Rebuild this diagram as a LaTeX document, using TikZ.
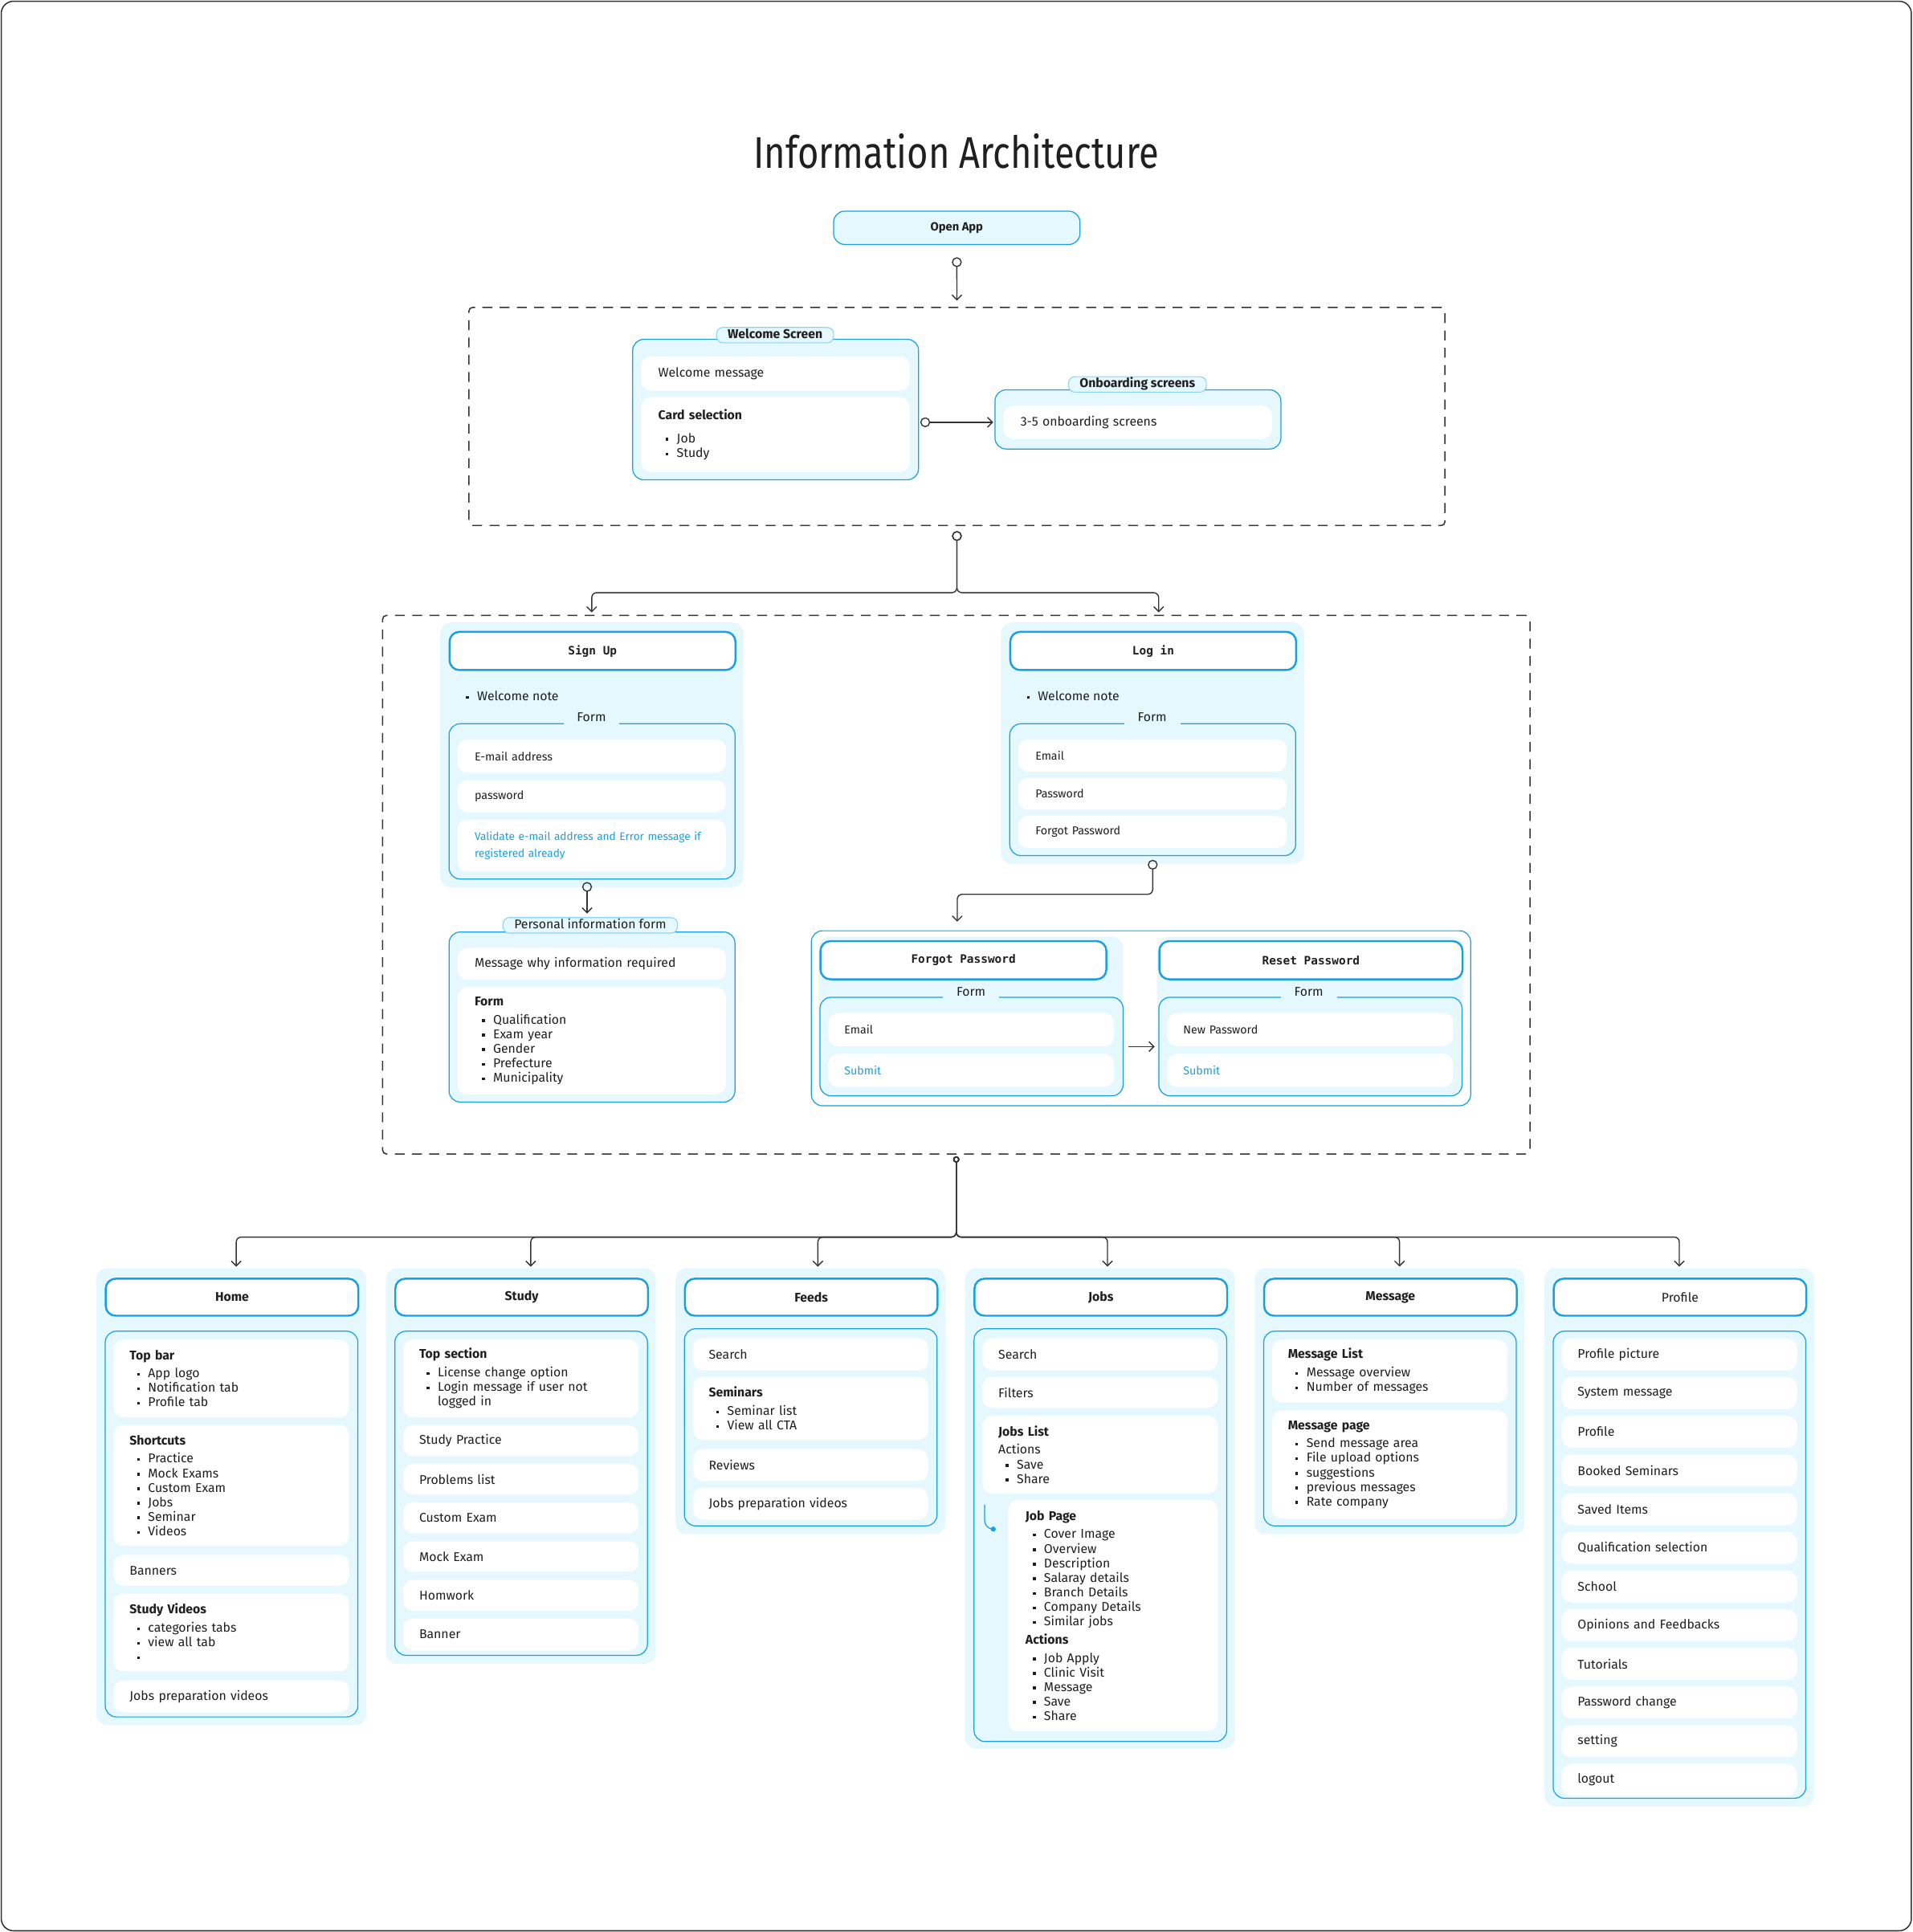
\documentclass[tikz,border=0pt]{standalone}
\usepackage{fontspec}
\setmainfont{Fira Sans}
\setmonofont{DejaVu Sans Mono}
\usetikzlibrary{positioning,arrows.meta}

\definecolor{iablue}{HTML}{1AA0E0}
\definecolor{iafill}{HTML}{E5F8FD}
\definecolor{iatab}{HTML}{8CD2F1}
\definecolor{iaink}{HTML}{1F1F1F}
\definecolor{ialine}{HTML}{333333}

\newcommand{\body}{\fontsize{10.3}{11.8}\selectfont}
\newcommand{\formfont}{\fontsize{9.3}{14}\selectfont}
\newcommand{\monohead}{\ttfamily\bfseries\fontsize{9.4}{10}\selectfont}
\newcommand{\bul}{\hspace*{6pt}\makebox[9pt][l]{\raisebox{0.3ex}{\rule{2.2pt}{2.2pt}}}}

\begin{document}
\begin{tikzpicture}[x=1pt,y=-1pt,font=\body,text=iaink]
    \tikzstyle{frame} = [draw=ialine, line width=1pt, rounded corners=10pt]
    \tikzstyle{stage} = [draw=ialine, line width=1pt, dash pattern=on 8pt off 6pt,
    rounded corners=3pt, anchor=north west, inner sep=0pt]
    \tikzstyle{group} = [fill=iafill, rounded corners=9pt, anchor=north west, inner sep=0pt]
    \tikzstyle{panel} = [draw=iablue, line width=0.8pt, fill=iafill, rounded corners=9pt,
    anchor=north west, inner sep=0pt]
    \tikzstyle{head} = [draw=iablue, line width=1.6pt, fill=white, rounded corners=8pt,
    anchor=north west, inner sep=0pt, font=\bfseries\body]
    \tikzstyle{item} = [fill=white, rounded corners=8pt, anchor=north west, align=left,
    inner xsep=13pt, inner ysep=2pt]
    \tikzstyle{colitem} = [item, text width=165pt]
    \tikzstyle{wideitem} = [item, text width=190pt, inner xsep=14pt]
    \tikzstyle{tab} = [draw=iatab, line width=0.7pt, fill=iafill, rounded corners=5pt,
    inner xsep=9pt, inner ysep=1.5pt, text height=7.5pt, text depth=2pt, font=\bfseries\body]
    \tikzstyle{legend} = [fill=iafill, inner xsep=11pt, inner ysep=1pt, text height=7.5pt,
    text depth=2pt, font=\body]
    \tikzstyle{link} = [draw=ialine, line width=0.9pt, rounded corners=4pt,
    {Circle[open,length=8pt,width=8pt]}-{Straight Barb[length=4pt,width=8pt]}]
    \tikzstyle{line} = [draw=ialine, line width=0.9pt, -{Straight Barb[length=4pt,width=8pt]}]

    % Page and title
    \path[fill=white] (0,0) rectangle (1552,1568);
    \useasboundingbox (0,0) rectangle (1552,1568);
    \draw[frame] (1,1) rectangle (1551,1567);
    \node (title) at (776,123) {\scalebox{0.82}[1]{\fontsize{36}{36}\selectfont Information Architecture}};

    \node[panel, minimum width=200pt, minimum height=27pt,
    font=\bfseries\fontsize{9.6}{10}\selectfont] (openapp) at (676,171) {Open App};

    % Welcome stage
    \node[stage, minimum width=792pt, minimum height=177pt] (stage1) at (380,249) {};
    \node[panel, minimum width=232pt, minimum height=114pt] (wsp) at (513,275) {};
    \node[tab] (wstab) at (629,272) {Welcome Screen};
    \node[wideitem, minimum height=28pt] (wsmsg) at (520,289) {Welcome message};
    \node[wideitem, minimum height=61pt] (wscard) at (520,322)
    {\textbf{Card selection}\\[7pt] \bul Job\\ \bul Study};

    \node[panel, minimum width=232pt, minimum height=48pt] (obp) at (807,316) {};
    \node[tab] (obtab) at (923,312) {Onboarding screens};
    \node[wideitem, minimum height=27pt] (obitem) at (814,329) {3-5 onboarding screens};

    % Sign up / log in stage
    \node[stage, minimum width=931pt, minimum height=437pt] (stage2) at (310,499) {};

    \node[group, minimum width=246pt, minimum height=215pt] (sug) at (357,505) {};
    \node[head, minimum width=232pt, minimum height=31pt, font=\monohead] (suhead) at (364,512) {Sign Up};
    \node[anchor=west, inner sep=0pt] (sunote) at (372,565) {\bul Welcome note};
    \node[panel, minimum width=232pt, minimum height=126pt] (sufrm) at (364,587) {};
    \node[legend] (sulgd) at (480,583) {Form};
    \node[wideitem, minimum height=27pt, font=\formfont] (su1) at (371,600) {E-mail address};
    \node[wideitem, minimum height=26pt, font=\formfont] (su2) at (371,633) {password};
    \node[wideitem, minimum height=42pt, font=\fontsize{8.9}{14}\selectfont, text=iablue] (su3) at (371,665)
    {Validate e-mail address and Error message if\\ registered already};

    \node[panel, minimum width=232pt, minimum height=138pt] (pinfo) at (364,756) {};
    \node[tab, font=\body] (pitab) at (479,751) {Personal information form};
    \node[wideitem, minimum height=26pt] (pi1) at (371,769) {Message why information required};
    \node[wideitem, minimum height=87pt] (pi2) at (371,801)
    {\textbf{Form}\\[3pt] \bul Qualification\\ \bul Exam year\\ \bul Gender\\ \bul Prefecture\\ \bul Municipality};

    \node[group, minimum width=246pt, minimum height=196pt] (lig) at (812,505) {};
    \node[head, minimum width=232pt, minimum height=31pt, font=\monohead] (lihead) at (819,512) {Log in};
    \node[anchor=west, inner sep=0pt] (linote) at (827,565) {\bul Welcome note};
    \node[panel, minimum width=232pt, minimum height=107pt] (lifrm) at (819,587) {};
    \node[legend] (lilgd) at (935,583) {Form};
    \node[wideitem, minimum height=26pt, font=\formfont] (li1) at (826,600) {Email};
    \node[wideitem, minimum height=26pt, font=\formfont] (li2) at (826,631) {Password};
    \node[wideitem, minimum height=26pt, font=\formfont] (li3) at (826,662) {Forgot Password};

    % Password recovery
    \node[panel, fill=white, minimum width=535pt, minimum height=142pt] (fpwrap) at (658,755) {};
    \node[group, minimum width=247pt, minimum height=129pt] (fpg) at (664,760) {};
    \node[head, minimum width=232pt, minimum height=31pt, font=\monohead] (fphead) at (665,763) {Forgot Password};
    \node[panel, minimum width=246pt, minimum height=80pt] (fpfrm) at (665,809) {};
    \node[legend] (fplgd) at (788,806) {Form};
    \node[item, text width=206pt, minimum height=27pt, font=\formfont] (fp1) at (672,822) {Email};
    \node[item, text width=206pt, minimum height=27pt, font=\formfont, text=iablue] (fp2) at (672,855) {Submit};

    \node[group, minimum width=248pt, minimum height=129pt] (rpg) at (939,760) {};
    \node[head, minimum width=246pt, minimum height=31pt, font=\monohead] (rphead) at (940,763) {Reset Password};
    \node[panel, minimum width=246pt, minimum height=80pt] (rpfrm) at (940,809) {};
    \node[legend] (rplgd) at (1062,806) {Form};
    \node[item, text width=206pt, minimum height=27pt, font=\formfont] (rp1) at (947,822) {New Password};
    \node[item, text width=206pt, minimum height=27pt, font=\formfont, text=iablue] (rp2) at (947,855) {Submit};

    % Home
    \node[group, minimum width=219pt, minimum height=371pt] (homegrp) at (78,1029) {};
    \node[head, minimum width=205pt, minimum height=30pt] (homehead) at (85,1037) {Home};
    \node[panel, minimum width=205pt, minimum height=313pt] (homepnl) at (85,1080) {};
    \node[colitem, minimum height=63pt] (home1) at (92,1087)
    {\textbf{Top bar}\\[3pt] \bul App logo\\ \bul Notification tab\\ \bul Profile tab};
    \node[colitem, minimum height=98pt, below=6pt of home1] (home2)
    {\textbf{Shortcuts}\\[3pt] \bul Practice\\ \bul Mock Exams\\ \bul Custom Exam\\ \bul Jobs\\ \bul Seminar\\ \bul Videos};
    \node[colitem, minimum height=25pt, below=7pt of home2] (home3) {Banners};
    \node[colitem, minimum height=63pt, below=6pt of home3] (home4)
    {\textbf{Study Videos}\\[3pt] \bul categories tabs\\ \bul view all tab\\ \bul};
    \node[colitem, minimum height=26pt, below=7pt of home4] (home5) {Jobs preparation videos};

    % Study
    \node[group, minimum width=219pt, minimum height=321pt] (studygrp) at (313,1029) {};
    \node[head, minimum width=205pt, minimum height=30pt] (studyhead) at (320,1037) {Study};
    \node[panel, minimum width=205pt, minimum height=263pt] (studypnl) at (320,1080) {};
    \node[colitem, minimum height=63pt] (study1) at (327,1087)
    {\textbf{Top section}\\[3pt] \bul License change option\\ \bul Login message if user not\\ \hspace*{15pt}logged in};
    \node[colitem, minimum height=25pt, below=6pt of study1] (study2) {Study Practice};
    \node[colitem, minimum height=25pt, below=6pt of study2] (study3) {Problems list};
    \node[colitem, minimum height=25pt, below=6pt of study3] (study4) {Custom Exam};
    \node[colitem, minimum height=25pt, below=6pt of study4] (study5) {Mock Exam};
    \node[colitem, minimum height=25pt, below=6pt of study5] (study6) {Homwork};
    \node[colitem, minimum height=26pt, below=6pt of study6] (study7) {Banner};

    % Feeds
    \node[group, minimum width=219pt, minimum height=216pt] (feedgrp) at (548,1029) {};
    \node[head, minimum width=205pt, minimum height=30pt] (feedhead) at (555,1037) {Feeds};
    \node[panel, minimum width=205pt, minimum height=160pt] (feedpnl) at (555,1078) {};
    \node[colitem, minimum height=26pt] (feed1) at (562,1086) {Search};
    \node[colitem, minimum height=51pt, below=5pt of feed1] (feed2)
    {\textbf{Seminars}\\[3pt] \bul Seminar list\\ \bul View all CTA};
    \node[colitem, minimum height=26pt, below=7pt of feed2] (feed3) {Reviews};
    \node[colitem, minimum height=26pt, below=5pt of feed3] (feed4) {Jobs preparation videos};

    % Jobs
    \node[group, minimum width=219pt, minimum height=390pt] (jobgrp) at (783,1029) {};
    \node[head, minimum width=205pt, minimum height=30pt] (jobhead) at (790,1037) {Jobs};
    \node[panel, minimum width=205pt, minimum height=335pt] (jobpnl) at (790,1078) {};
    \node[colitem, minimum height=26pt] (job1) at (797,1086) {Search};
    \node[colitem, minimum height=25pt, below=5pt of job1] (job2) {Filters};
    \node[colitem, minimum height=63pt, below=6pt of job2] (job3)
    {\textbf{Jobs List}\\[3pt] Actions\\ \bul Save\\ \bul Share};
    \node[item, text width=142pt, inner xsep=14pt, minimum height=188pt] (jobpage) at (818,1217)
    {\textbf{Job Page}\\[3pt] \bul Cover Image\\ \bul Overview\\ \bul Description\\ \bul Salaray details\\
    \bul Branch Details\\ \bul Company Details\\ \bul Similar jobs\\[3pt] \textbf{Actions}\\[3pt]
    \bul Job Apply\\ \bul Clinic Visit\\ \bul Message\\ \bul Save\\ \bul Share};
    \draw[draw=iablue, line width=0.8pt, rounded corners=7pt, -{Circle[length=4pt]}]
    ([shift={(2pt,-9pt)}]job3.south west) |- ([shift={(-10pt,-24pt)}]jobpage.north west);

    % Message
    \node[group, minimum width=219pt, minimum height=216pt] (msggrp) at (1018,1029) {};
    \node[head, minimum width=205pt, minimum height=30pt] (msghead) at (1025,1037) {Message};
    \node[panel, minimum width=205pt, minimum height=158pt] (msgpnl) at (1025,1080) {};
    \node[colitem, minimum height=51pt] (msg1) at (1032,1087)
    {\textbf{Message List}\\[3pt] \bul Message overview\\ \bul Number of messages};
    \node[colitem, minimum height=88pt, below=6pt of msg1] (msg2)
    {\textbf{Message page}\\[3pt] \bul Send message area\\ \bul File upload options\\ \bul suggestions\\
    \bul previous messages\\ \bul Rate company};

    % Profile
    \node[group, minimum width=219pt, minimum height=437pt] (profgrp) at (1253,1029) {};
    \node[head, minimum width=205pt, minimum height=30pt, font=\body] (profhead) at (1260,1037) {Profile};
    \node[panel, minimum width=205pt, minimum height=379pt] (profpnl) at (1260,1080) {};
    \node[colitem, minimum height=26pt] (prof1) at (1267,1086) {Profile picture};
    \node[colitem, minimum height=26pt, below=5pt of prof1] (prof2) {System message};
    \node[colitem, minimum height=26pt, below=5pt of prof2] (prof3) {Profile};
    \node[colitem, minimum height=26pt, below=5pt of prof3] (prof4) {Booked Seminars};
    \node[colitem, minimum height=26pt, below=5pt of prof4] (prof5) {Saved Items};
    \node[colitem, minimum height=26pt, below=5pt of prof5] (prof6) {Qualification selection};
    \node[colitem, minimum height=26pt, below=5pt of prof6] (prof7) {School};
    \node[colitem, minimum height=26pt, below=5pt of prof7] (prof8) {Opinions and Feedbacks};
    \node[colitem, minimum height=26pt, below=5pt of prof8] (prof9) {Tutorials};
    \node[colitem, minimum height=26pt, below=5pt of prof9] (prof10) {Password change};
    \node[colitem, minimum height=26pt, below=5pt of prof10] (prof11) {setting};
    \node[colitem, minimum height=26pt, below=5pt of prof11] (prof12) {logout};

    % Connectors
    \draw[link, shorten <=10pt, shorten >=5pt] (openapp.south) -- (stage1.north);
    \draw[link, shorten <=1pt, shorten >=1pt] (wsp.east |- obitem) -- (obp.west |- obitem);
    \draw[link, shorten <=4pt, shorten >=8pt] (stage1.south) -- ++(0,54) -| (sug.north);
    \draw[link, shorten <=4pt, shorten >=8pt] (stage1.south) -- ++(0,54) -| ([xshift=5pt]lig.north);
    \draw[link, shorten <=2pt, shorten >=3pt] ([xshift=-4pt]sufrm.south) -- ([xshift=-4pt]sufrm.south |- pitab.north);
    \draw[link, shorten <=3pt, shorten >=15pt] (lifrm.south) -- ++(0,31) -| ([xshift=-5pt]fphead.north);
    \draw[line, shorten <=4pt, shorten >=3pt] (fpfrm.east) -- (rpfrm.west);
    \foreach \col/\dx in {homegrp/4, studygrp/8, feedgrp/6, jobgrp/6, msggrp/8, profgrp/0}
    \draw[link, {Circle[open,length=5pt,width=5pt]}-{Straight Barb[length=4pt,width=8pt]},
    shorten <=1.5pt, shorten >=1pt] (stage2.south) -- ++(0,67) -| ([xshift=\dx pt]\col.north);

  \end{tikzpicture}
\end{document}
